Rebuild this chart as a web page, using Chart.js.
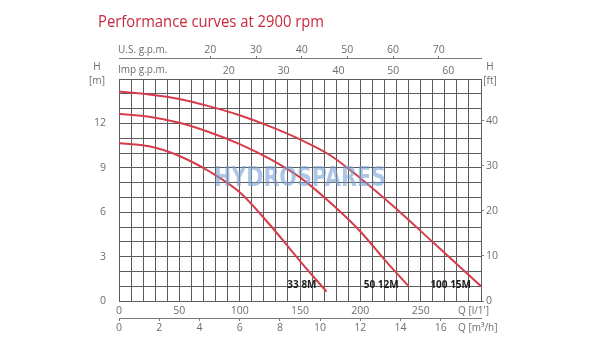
<!DOCTYPE html>
<html>
<head>
<meta charset="utf-8">
<script src="https://cdn.jsdelivr.net/npm/chart.js@4.4.1/dist/chart.umd.min.js"></script>
<style>
  body { margin: 0; background: #fff; }
</style>
</head>
<body>
<canvas id="perf" width="600" height="360"></canvas>
<script>
// pump curves, flow in l/min and head in m
const curveNames = ['33 8M', '50 12M', '100 15M']
const flow33 = [0, 25, 50, 75, 100, 125, 150, 172]
const head33 = [10.66, 10.45, 9.8, 8.75, 7.35, 5.15, 2.7, 0.63]
const flow50 = [0, 25, 50, 75, 100, 125, 150, 175, 200, 220, 240]
const head50 = [12.65, 12.45, 12.04, 11.4, 10.6, 9.6, 8.35, 6.65, 4.7, 2.8, 1.0]
const flow100 = [0, 25, 50, 75, 100, 125, 150, 175, 200, 230, 260, 300]
const head100 = [14.15, 13.95, 13.65, 13.15, 12.55, 11.8, 10.92, 9.85, 8.3, 6.22, 3.98, 1.0]

// tick labels on each axis
const lpmTicks = [0, 50, 100, 150, 200, 250]
const m3hTicks = [0, 2, 4, 6, 8, 10, 12, 14, 16]
const impTicks = [20, 30, 40, 50, 60]
const usTicks = [20, 30, 40, 50, 60, 70]
const metreTicks = [0, 3, 6, 9, 12]
const feetTicks = [0, 10, 20, 30, 40]

const maxFlow = 300 // l/min
const maxHead = 15 // m

const red = '#d63c4a'
const gridColor = '#5c5c5c'
const axisColor = '#7a7a7a'
const labelColor = '#6e6e6e'
const tickFont = { family: 'Open Sans', size: 10.5 }

const toPoints = (flow, head) => flow.map((q, i) => ({ x: q, y: head[i] }))

const fixSize = size => scale => {
  if (scale.isHorizontal()) scale.height = size
  else scale.width = size
  scale.paddingLeft = scale.paddingRight = 0
}
const setTicks = values => scale => {
  scale.ticks = values.map(v => ({ value: v }))
}

const gridLines = []
for (let q = 0; q <= maxFlow; q += 10) gridLines.push(q)

const overlay = {
  id: 'overlay',
  afterDatasetsDraw(chart) {
    const { ctx, chartArea: a, scales } = chart
    ctx.save()

    // watermark
    ctx.font = 'bold 26px "DejaVu Sans"'
    const w = ctx.measureText('HYDROSPARES').width
    ctx.translate((a.left + a.right) / 2, a.top + 100)
    ctx.scale(172 / w, 1)
    ctx.fillStyle = 'rgba(120, 160, 212, 0.6)'
    ctx.textAlign = 'center'
    ctx.textBaseline = 'middle'
    ctx.fillText('HYDROSPARES', 0, 0)
    ctx.setTransform(1, 0, 0, 1, 0, 0)

    // curve names next to the end of each curve
    ctx.font = 'bold 10px "Open Sans"'
    ctx.fillStyle = '#1e1e1e'
    ctx.textAlign = 'right'
    chart.data.datasets.forEach((ds, i) => {
      const last = ds.data[ds.data.length - 1]
      ctx.fillText(curveNames[i], scales.x.getPixelForValue(last.x) - 10, a.bottom - 16)
    })
    ctx.restore()
  },
  afterDraw(chart) {
    const { ctx, chartArea: a } = chart
    ctx.save()

    ctx.font = '17px "Open Sans"'
    const title = 'Performance curves at 2900 rpm'
    const tw = ctx.measureText(title).width
    ctx.translate(98, 22)
    ctx.scale(226 / tw, 1)
    ctx.fillStyle = '#c8283c'
    ctx.textBaseline = 'middle'
    ctx.fillText(title, 0, 0)
    ctx.setTransform(1, 0, 0, 1, 0, 0)

    ctx.font = '10px "Open Sans"'
    ctx.fillStyle = labelColor
    ctx.textBaseline = 'middle'
    ctx.textAlign = 'left'
    ctx.fillText('U.S. g.p.m.', a.left - 1, 50)
    ctx.fillText('Imp g.p.m.', a.left - 1, 70)
    ctx.fillText("Q [l/1']", a.right - 23, a.bottom + 10)
    ctx.fillText('Q [m³/h]', a.right - 23, a.bottom + 27)

    ctx.textAlign = 'center'
    ctx.fillText('H', a.left - 22, 67)
    ctx.fillText('[m]', a.left - 22, 81)
    ctx.fillText('H', a.right + 9, 67)
    ctx.fillText('[ft]', a.right + 9, 81)
    ctx.restore()
  },
}

new Chart(document.getElementById('perf'), {
  type: 'line',
  data: {
    datasets: [
      { label: curveNames[0], data: toPoints(flow33, head33) },
      { label: curveNames[1], data: toPoints(flow50, head50) },
      { label: curveNames[2], data: toPoints(flow100, head100) },
    ].map(ds => ({
      ...ds,
      borderColor: red,
      borderWidth: 2,
      pointRadius: 0,
      fill: false,
      cubicInterpolationMode: 'monotone',
      xAxisID: 'x',
      yAxisID: 'y',
    })),
  },
  options: {
    responsive: false,
    animation: false,
    devicePixelRatio: 1,
    layout: { padding: { top: 36, left: 88, right: 79, bottom: 20 } },
    plugins: {
      legend: { display: false },
      tooltip: { enabled: false },
    },
    scales: {
      x: {
        type: 'linear',
        position: 'bottom',
        min: 0,
        max: maxFlow,
        weight: 0,
        afterBuildTicks: setTicks(gridLines),
        afterFit: fixSize(17),
        grid: { color: gridColor, drawTicks: false },
        border: { color: gridColor },
        ticks: {
          padding: 4,
          maxRotation: 0,
          autoSkip: false,
          color: labelColor,
          font: tickFont,
          callback: v => (lpmTicks.includes(v) ? v : ''),
        },
      },
      m3: {
        type: 'linear',
        position: 'bottom',
        min: 0,
        max: (maxFlow * 60) / 1000,
        weight: 1,
        afterBuildTicks: setTicks(m3hTicks),
        afterFit: fixSize(22),
        grid: { drawOnChartArea: false, tickLength: 3, color: axisColor },
        border: { color: axisColor },
        ticks: { padding: 1, maxRotation: 0, autoSkip: false, color: labelColor, font: tickFont },
      },
      imp: {
        type: 'linear',
        position: 'top',
        min: 0,
        max: maxFlow / 4.546,
        weight: 0,
        afterBuildTicks: setTicks(impTicks),
        afterFit: fixSize(21),
        grid: { display: false, drawTicks: false },
        border: { display: false },
        ticks: { padding: 2, maxRotation: 0, autoSkip: false, color: labelColor, font: tickFont },
      },
      us: {
        type: 'linear',
        position: 'top',
        min: 0,
        max: maxFlow / 3.785,
        weight: 1,
        afterBuildTicks: setTicks(usTicks),
        afterFit: fixSize(22),
        grid: { drawOnChartArea: false, tickLength: 2, color: axisColor },
        border: { color: axisColor },
        ticks: { padding: 0, maxRotation: 0, autoSkip: false, color: labelColor, font: tickFont },
      },
      y: {
        type: 'linear',
        position: 'left',
        min: 0,
        max: maxHead,
        afterFit: fixSize(31),
        grid: { color: gridColor, drawTicks: false },
        border: { color: gridColor },
        ticks: {
          stepSize: 1,
          padding: 13,
          autoSkip: false,
          color: labelColor,
          font: tickFont,
          callback: v => (metreTicks.includes(v) ? v : ''),
        },
      },
      ft: {
        type: 'linear',
        position: 'right',
        min: 0,
        max: maxHead / 0.3048,
        afterBuildTicks: setTicks(feetTicks),
        afterFit: fixSize(40),
        grid: { drawOnChartArea: false, tickLength: 3, color: axisColor },
        border: { display: false },
        ticks: { padding: 2, autoSkip: false, color: labelColor, font: tickFont },
      },
    },
  },
  plugins: [overlay],
})
</script>
</body>
</html>
